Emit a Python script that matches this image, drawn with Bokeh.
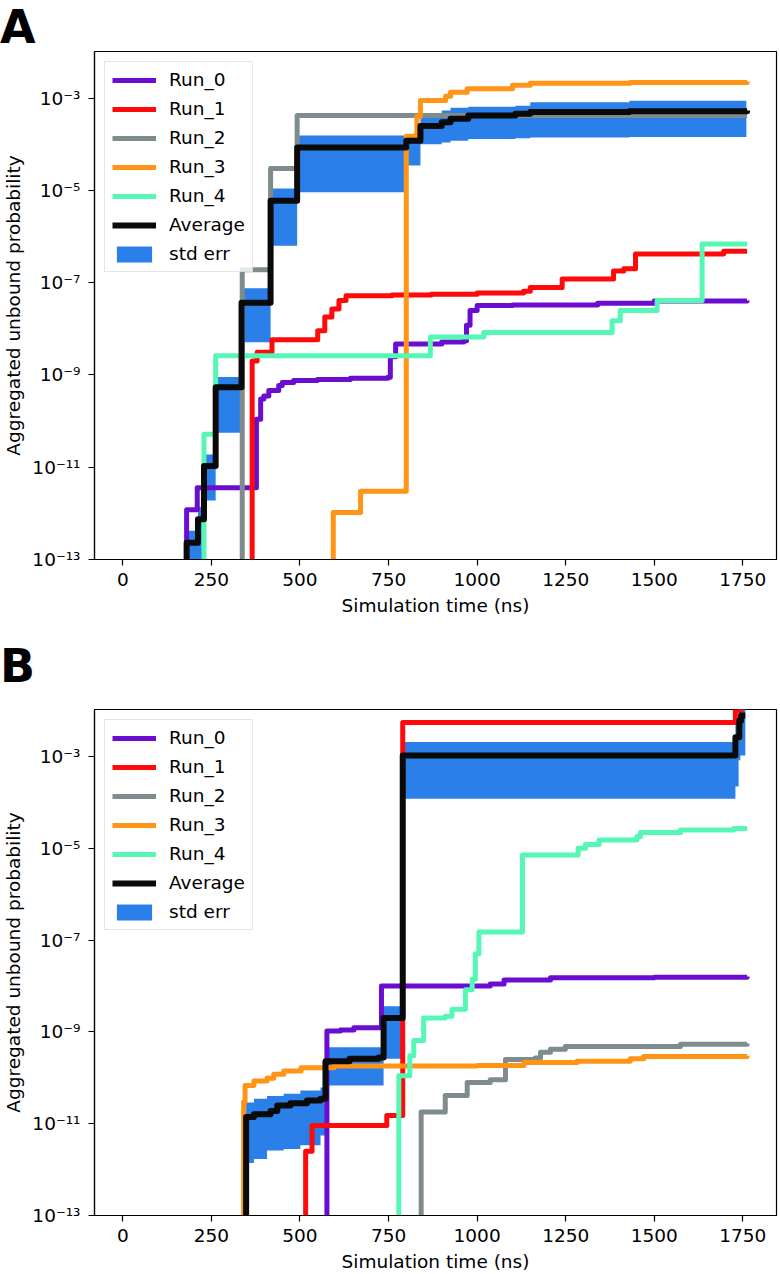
from bokeh.plotting import figure
from bokeh.models import (Range1d, FixedTicker, CustomJSTickFormatter, Legend,
                          LegendItem, ColumnDataSource, Div)
from bokeh.layouts import column
from bokeh.embed import file_html
from bokeh.resources import INLINE

# ---------------- data ----------------
RUN_NAMES = ["Run_0", "Run_1", "Run_2", "Run_3", "Run_4"]
X_TICKS = [0, 250, 500, 750, 1000, 1250, 1500, 1750]
Y_TICKS = [1e-13, 1e-11, 1e-9, 1e-7, 1e-5, 1e-3]
X_LABEL = "Simulation time (ns)"
Y_LABEL = "Aggregated unbound probability"
FLOOR = 1e-30  # value below the visible range (zero on a log axis)

# Panel A
A_RUN0_T = [0, 180, 210, 377, 389, 398, 412, 440, 450, 482, 549, 642, 748, 755, 770, 900, 962, 970, 980, 1000, 1100, 1340, 1500, 1762]
A_RUN0_P = [FLOOR, 1.2e-12, 3.6e-12, 1.1e-10, 3.0e-10, 3.5e-10, 4.6e-10, 5.9e-10, 6.9e-10, 7.6e-10, 8.0e-10, 8.5e-10, 8.9e-10, 2.5e-9, 4.7e-9, 5.2e-9, 5.5e-9, 1.2e-8, 2.5e-8, 3.2e-8, 3.3e-8, 3.6e-8, 4.0e-8, 4.1e-8]
A_RUN1_T = [0, 365, 379, 421, 550, 570, 590, 610, 630, 760, 870, 1000, 1131, 1150, 1240, 1385, 1414, 1447, 1696, 1762]
A_RUN1_P = [FLOOR, 2.0e-9, 3.1e-9, 5.8e-9, 9.1e-9, 1.8e-8, 2.7e-8, 4.1e-8, 5.2e-8, 5.4e-8, 5.6e-8, 6.0e-8, 6.5e-8, 7.9e-8, 1.2e-7, 1.8e-7, 2.0e-7, 4.2e-7, 4.8e-7, 4.8e-7]
A_RUN2_T = [0, 337, 417, 492, 1762]
A_RUN2_P = [FLOOR, 1.9e-7, 3.0e-5, 4.2e-4, 4.2e-4]
A_RUN3_T = [0, 594, 671, 800, 830, 840, 911, 925, 972, 1100, 1150, 1432, 1762]
A_RUN3_P = [FLOOR, 1.05e-12, 3.0e-12, 1.5e-4, 4.0e-4, 8.9e-4, 1.1e-3, 1.35e-3, 1.6e-3, 1.9e-3, 2.1e-3, 2.2e-3, 2.3e-3]
A_RUN4_T = [0, 229, 262, 868, 1019, 1381, 1404, 1508, 1635, 1762]
A_RUN4_P = [FLOOR, 5.2e-11, 2.6e-9, 6.7e-9, 8.3e-9, 1.5e-8, 2.5e-8, 4.1e-8, 6.9e-7, 6.9e-7]
A_AVG_T = [0, 180, 212, 229, 262, 335, 417, 492, 800, 840, 900, 925, 975, 1108, 1150, 1430, 1762]
A_AVG_P = [FLOOR, 2.3e-13, 7.5e-13, 1.07e-11, 5.4e-10, 3.7e-8, 6.0e-6, 8.5e-5, 1.2e-4, 2.5e-4, 3.0e-4, 3.6e-4, 4.2e-4, 4.6e-4, 5.0e-4, 5.2e-4, 5.4e-4]
A_ERR_T = [182, 212, 229, 262, 335, 417, 492, 800, 840, 900, 925, 975, 1108, 1150, 1430, 1760]
A_ERR_LO = [FLOOR, FLOOR, 1.9e-12, 5.6e-11, 5.1e-9, 6.3e-7, 9.1e-6, 3.5e-5, 1.0e-4, 1.1e-4, 1.2e-4, 1.3e-4, 1.35e-4, 1.4e-4, 1.45e-4, 1.47e-4]
A_ERR_HI = [4.2e-13, 1.4e-12, 1.9e-11, 9.1e-10, 7.6e-8, 1.1e-5, 1.55e-4, 1.55e-4, 4.6e-4, 5.4e-4, 6.2e-4, 6.5e-4, 6.9e-4, 8.2e-4, 8.8e-4, 9.3e-4]

# Panel B
B_RUN0_T = [0, 576, 614, 652, 730, 1037, 1076, 1207, 1500, 1762]
B_RUN0_P = [FLOOR, 1.05e-9, 1.1e-9, 1.23e-9, 1.0e-8, 1.1e-8, 1.35e-8, 1.5e-8, 1.55e-8, 1.6e-8]
B_RUN1_T = [0, 516, 534, 745, 790, 1729, 1745, 1762]
B_RUN1_P = [FLOOR, 2.5e-12, 9.1e-12, 1.5e-11, 5.5e-3, 1.0e-2, 1.4e-2, 1.4e-2]
B_RUN2_T = [0, 842, 910, 972, 1037, 1080, 1164, 1179, 1207, 1249, 1574, 1762]
B_RUN2_P = [FLOOR, 1.8e-11, 4.1e-11, 7.9e-11, 9.1e-11, 2.5e-10, 2.7e-10, 3.6e-10, 4.2e-10, 4.8e-10, 5.4e-10, 5.6e-10]
B_RUN3_T = [0, 341, 345, 370, 407, 426, 454, 503, 596, 1000, 1132, 1282, 1432, 1470, 1762]
B_RUN3_P = [FLOOR, 3.0e-11, 6.8e-11, 8.5e-11, 9.8e-11, 1.2e-10, 1.4e-10, 1.65e-10, 1.8e-10, 1.85e-10, 2.15e-10, 2.3e-10, 2.6e-10, 2.9e-10, 3.0e-10]
B_RUN4_T = [0, 779, 810, 821, 849, 910, 929, 967, 986, 995, 1005, 1128, 1285, 1306, 1344, 1451, 1461, 1574, 1724, 1762]
B_RUN4_P = [FLOOR, 1.1e-10, 3.0e-10, 6.5e-10, 2.0e-9, 2.2e-9, 3.1e-9, 8.3e-9, 1.4e-8, 5.0e-8, 1.5e-7, 7.1e-6, 1.0e-5, 1.2e-5, 1.5e-5, 1.8e-5, 2.2e-5, 2.5e-5, 2.7e-5, 2.7e-5]
B_AVG_T = [0, 348, 370, 417, 436, 473, 520, 558, 572, 640, 722, 736, 790, 1729, 1740, 1745, 1757]
B_AVG_P = [FLOOR, 1.4e-11, 1.6e-11, 1.9e-11, 2.5e-11, 2.8e-11, 3.2e-11, 3.5e-11, 2.3e-10, 2.6e-10, 2.75e-10, 2.0e-9, 1.05e-3, 2.6e-3, 6.0e-3, 7.8e-3, 7.8e-3]
B_ERR_T = [348, 370, 407, 454, 501, 558, 572, 736, 792, 1729, 1738, 1743, 1752, 1757]
B_ERR_LO = [1.4e-12, 1.7e-12, 2.6e-12, 2.8e-12, 3.4e-12, 5.5e-12, 6.8e-11, 2.6e-10, 1.2e-4, 2.2e-4, 8.2e-4, 1.05e-3, 1.05e-3, 1.05e-3]
B_ERR_HI = [2.9e-11, 3.5e-11, 4.0e-11, 4.5e-11, 5.3e-11, 6.1e-11, 4.6e-10, 3.6e-9, 2.05e-3, 5.0e-3, 1.2e-2, 2.0e-2, 2.0e-2, 2.0e-2]

# ---------------- styles ----------------
RUN_COLORS = ["#6a0dd0", "#ff0a0a", "#7f8c8d", "#ff9416", "#56f7b5"]
AVG_COLOR = "#0a0a0a"
BAND_COLOR = "#2a80e8"
FONT = "DejaVu Sans"
FSIZE = "18.5px"
LETTER_CSS = "font-family:'DejaVu Sans';font-weight:bold;font-size:46px;color:#000;white-space:nowrap;"

SUP_JS = """
const sup = {"-": "\\u207b", "0": "\\u2070", "1": "\\u00b9", "2": "\\u00b2", "3": "\\u00b3",
             "4": "\\u2074", "5": "\\u2075", "6": "\\u2076", "7": "\\u2077", "8": "\\u2078", "9": "\\u2079"};
const e = Math.round(Math.log10(tick));
return "10" + String(e).split("").map(c => sup[c]).join("");
"""


def build(runs, avg, err, y_top, height, b_top, b_bottom):
    p = figure(width=780, height=height, y_axis_type="log",
               x_range=Range1d(-80, 1845), y_range=Range1d(1e-13, y_top),
               output_backend="svg", toolbar_location=None,
               min_border_left=94, min_border_right=4,
               min_border_top=b_top, min_border_bottom=b_bottom, margin=0)
    p.background_fill_color = "white"
    p.border_fill_color = "white"
    p.outline_line_color = "black"
    p.outline_line_width = 1.2
    p.outline_line_alpha = 1.0
    p.xgrid.visible = False
    p.ygrid.visible = False

    band = p.varea_step(x="t", y1="lo", y2="hi", step_mode="after",
                        source=ColumnDataSource(dict(t=err[0], lo=err[1], hi=err[2])),
                        fill_color=BAND_COLOR, fill_alpha=1.0)
    rr = []
    for (t, v), color in zip(runs, RUN_COLORS):
        r = p.step(x="t", y="v", mode="after", source=ColumnDataSource(dict(t=t, v=v)),
                   line_color=color, line_width=5, line_join="round")
        rr.append(r)
    ravg = p.step(x="t", y="v", mode="after", source=ColumnDataSource(dict(t=avg[0], v=avg[1])),
                  line_color=AVG_COLOR, line_width=6, line_join="round")

    items = [LegendItem(label=n, renderers=[r]) for n, r in zip(RUN_NAMES, rr)]
    items.append(LegendItem(label="Average", renderers=[ravg]))
    items.append(LegendItem(label="std err", renderers=[band]))
    legend = Legend(items=items, location="top_left", margin=10, padding=7,
                    spacing=8, glyph_width=44, glyph_height=20, label_height=20,
                    label_standoff=13, label_text_font=FONT, label_text_font_size=FSIZE,
                    label_text_color="black", border_line_color="#cccccc",
                    border_line_width=1.2, background_fill_color="white",
                    background_fill_alpha=0.8)
    p.add_layout(legend)

    p.xaxis.ticker = FixedTicker(ticks=X_TICKS, minor_ticks=[])
    p.yaxis.ticker = FixedTicker(ticks=Y_TICKS, minor_ticks=[])
    p.yaxis.formatter = CustomJSTickFormatter(code=SUP_JS)
    p.xaxis.axis_label = X_LABEL
    p.yaxis.axis_label = Y_LABEL
    for ax in (p.xaxis[0], p.yaxis[0]):
        ax.axis_line_color = "black"
        ax.axis_line_width = 1.2
        ax.major_tick_line_color = "black"
        ax.major_tick_line_width = 1.2
        ax.major_tick_in = 0
        ax.major_tick_out = 6
        ax.minor_tick_line_color = None
        ax.major_label_text_font = FONT
        ax.major_label_text_font_size = FSIZE
        ax.major_label_text_color = "black"
        ax.axis_label_text_font = FONT
        ax.axis_label_text_font_size = FSIZE
        ax.axis_label_text_font_style = "normal"
        ax.axis_label_text_color = "black"
    p.xaxis.major_label_standoff = 7
    p.xaxis.axis_label_standoff = 6
    p.yaxis.major_label_standoff = 8
    p.yaxis.axis_label_standoff = 5
    return p


divA = Div(text=f'<div style="{LETTER_CSS}line-height:54px;">A</div>',
           width=60, height=46, margin=0)
pA = build([(A_RUN0_T, A_RUN0_P), (A_RUN1_T, A_RUN1_P), (A_RUN2_T, A_RUN2_P),
            (A_RUN3_T, A_RUN3_P), (A_RUN4_T, A_RUN4_P)],
           (A_AVG_T, A_AVG_P), (A_ERR_T, A_ERR_LO, A_ERR_HI),
           1.03e-2, 591, 5, 78)
divB = Div(text=f'<div style="{LETTER_CSS}line-height:58px;">B</div>',
           width=60, height=60, margin=0)
pB = build([(B_RUN0_T, B_RUN0_P), (B_RUN1_T, B_RUN1_P), (B_RUN2_T, B_RUN2_P),
            (B_RUN3_T, B_RUN3_P), (B_RUN4_T, B_RUN4_P)],
           (B_AVG_T, B_AVG_P), (B_ERR_T, B_ERR_LO, B_ERR_HI),
           1.05e-2, 577, 12, 57)

layout = column(divA, pA, divB, pB, margin=0, spacing=0)
open("out.html", "w", encoding="utf-8").write(file_html(layout, INLINE))
